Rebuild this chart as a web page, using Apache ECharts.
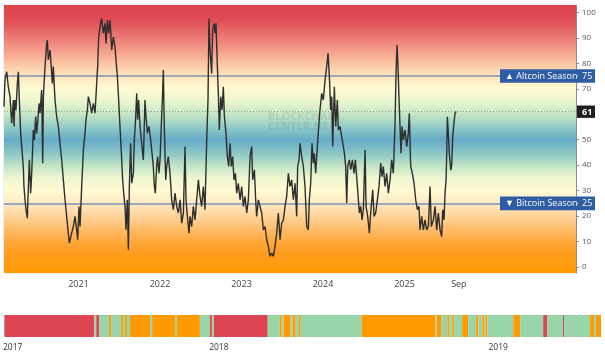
<!DOCTYPE html>
<html><head><meta charset="utf-8">
<script src="https://cdn.jsdelivr.net/npm/echarts@6/dist/echarts.min.js"></script>
<style>html,body{margin:0;padding:0;background:#fff;}#c{width:605px;height:356px;}</style>
</head><body><div id="c"></div>
<script>
// ---- Altcoin Season Index (time in decimal years, value 0-100) ----
const index2020 = [[2020.086,63.0],[2020.098,73.5],[2020.119,76.7],[2020.139,70.8],[2020.160,66.9],[2020.180,56.5],[2020.201,65.6],[2020.209,55.2],[2020.221,65.6],[2020.233,61.7],[2020.250,72.1],[2020.262,76.7],[2020.274,65.6],[2020.291,52.5],[2020.303,47.3],[2020.323,39.5],[2020.331,31.6],[2020.344,26.4],[2020.356,22.5],[2020.372,19.2],[2020.385,31.6],[2020.397,42.1],[2020.413,29.0],[2020.426,36.8],[2020.446,53.8],[2020.458,49.9],[2020.475,59.1],[2020.487,52.5],[2020.499,56.5],[2020.516,64.3],[2020.528,60.4],[2020.548,69.5],[2020.561,40.8],[2020.569,66.9],[2020.589,78.7],[2020.610,87.8],[2020.618,89.1],[2020.630,81.3],[2020.651,85.2],[2020.663,80.0],[2020.679,72.1],[2020.691,78.7],[2020.712,65.6],[2020.732,59.1],[2020.753,55.2],[2020.773,48.6],[2020.794,42.1],[2020.814,34.2],[2020.835,26.4],[2020.855,19.9],[2020.875,13.3],[2020.888,9.4],[2020.904,9.4],[2020.916,13.3],[2020.937,15.9],[2020.957,19.9],[2020.978,14.6],[2020.990,10.7]];
const index2021 = [[2021.006,23.8],[2021.019,15.9],[2021.039,31.6],[2021.060,46.0],[2021.080,52.5],[2021.092,57.8],[2021.109,61.7],[2021.121,66.9],[2021.141,64.3],[2021.162,60.4],[2021.182,64.3],[2021.203,60.4],[2021.223,72.1],[2021.235,78.7],[2021.248,90.4],[2021.264,94.4],[2021.284,97.6],[2021.305,91.8],[2021.325,95.7],[2021.338,87.8],[2021.354,97.0],[2021.370,91.8],[2021.387,97.0],[2021.407,85.2],[2021.428,90.4],[2021.448,86.5],[2021.460,81.3],[2021.477,74.8],[2021.493,65.6],[2021.509,55.2],[2021.530,42.1],[2021.542,34.2],[2021.558,27.7],[2021.571,23.8],[2021.583,14.6],[2021.599,26.4],[2021.612,6.8],[2021.624,31.6],[2021.640,48.6],[2021.653,32.9],[2021.673,36.8],[2021.685,49.9],[2021.698,56.5],[2021.714,68.2],[2021.726,57.8],[2021.738,65.6],[2021.755,55.2],[2021.775,48.6],[2021.796,42.1],[2021.816,65.6],[2021.828,59.1],[2021.845,52.5],[2021.865,55.2],[2021.886,49.9],[2021.902,44.7],[2021.918,39.5],[2021.931,31.6],[2021.943,29.0],[2021.959,39.5],[2021.971,43.4],[2021.988,36.8]];
const index2022 = [[2022.000,42.1],[2022.012,52.5],[2022.029,65.6],[2022.041,77.4],[2022.053,55.2],[2022.070,34.2],[2022.082,39.5],[2022.102,43.4],[2022.123,36.8],[2022.143,26.4],[2022.164,22.5],[2022.184,29.0],[2022.205,23.8],[2022.225,21.2],[2022.246,26.4],[2022.266,17.2],[2022.287,21.2],[2022.307,47.3],[2022.319,26.4],[2022.336,19.9],[2022.356,13.3],[2022.368,19.9],[2022.389,15.9],[2022.409,23.8],[2022.430,18.5],[2022.450,26.4],[2022.471,34.2],[2022.491,27.7],[2022.511,23.8],[2022.532,31.6],[2022.552,22.5],[2022.573,49.9],[2022.589,65.6],[2022.601,97.6],[2022.614,85.2],[2022.634,76.0],[2022.646,93.1],[2022.663,95.7],[2022.675,91.8],[2022.687,95.7],[2022.704,78.7],[2022.716,68.2],[2022.728,53.8],[2022.745,66.9],[2022.761,61.7],[2022.777,70.8],[2022.790,59.1],[2022.810,52.5],[2022.826,43.4],[2022.843,39.5],[2022.859,48.6],[2022.875,39.5],[2022.892,43.4],[2022.908,34.2],[2022.925,36.8],[2022.941,29.0],[2022.961,32.9],[2022.982,26.4]];
const index2023 = [[2023.002,31.6],[2023.023,23.8],[2023.043,27.7],[2023.064,21.2],[2023.084,26.4],[2023.105,43.4],[2023.125,47.3],[2023.137,34.2],[2023.158,38.2],[2023.174,26.4],[2023.186,19.9],[2023.207,26.4],[2023.227,23.8],[2023.248,21.2],[2023.268,14.6],[2023.289,15.9],[2023.309,10.7],[2023.329,8.1],[2023.350,4.2],[2023.370,5.5],[2023.391,4.2],[2023.411,8.1],[2023.432,13.3],[2023.452,21.2],[2023.473,10.7],[2023.493,17.2],[2023.514,18.5],[2023.534,23.8],[2023.554,27.7],[2023.575,36.8],[2023.595,31.6],[2023.616,34.2],[2023.636,26.4],[2023.657,32.9],[2023.677,19.9],[2023.689,39.5],[2023.706,42.1],[2023.718,48.6],[2023.738,43.4],[2023.759,39.5],[2023.779,31.6],[2023.800,15.9],[2023.820,14.6],[2023.832,26.4],[2023.849,32.9],[2023.865,48.6],[2023.882,40.8],[2023.894,44.7],[2023.910,36.8],[2023.931,47.3],[2023.947,55.2],[2023.963,61.7],[2023.984,68.2]];
const index2024 = [[2024.004,65.6],[2024.025,73.5],[2024.045,78.7],[2024.062,83.9],[2024.078,74.8],[2024.094,61.7],[2024.107,66.9],[2024.119,47.3],[2024.139,70.8],[2024.156,55.2],[2024.176,65.6],[2024.188,53.8],[2024.209,55.2],[2024.229,51.2],[2024.250,47.3],[2024.262,44.7],[2024.278,39.5],[2024.291,25.1],[2024.303,39.5],[2024.323,42.1],[2024.340,38.2],[2024.360,42.1],[2024.381,36.8],[2024.397,42.1],[2024.413,35.5],[2024.434,26.4],[2024.446,21.2],[2024.462,23.8],[2024.479,18.5],[2024.495,22.5],[2024.516,46.0],[2024.528,23.8],[2024.548,19.9],[2024.569,13.3],[2024.585,21.2],[2024.610,30.3],[2024.626,19.9],[2024.646,21.2],[2024.667,26.4],[2024.687,31.6],[2024.708,40.8],[2024.724,35.5],[2024.740,39.5],[2024.761,31.6],[2024.781,36.8],[2024.802,29.0],[2024.822,34.2],[2024.843,42.1],[2024.863,36.8],[2024.884,56.5],[2024.896,76.0],[2024.908,87.2],[2024.920,78.7],[2024.933,65.6],[2024.945,55.2],[2024.957,44.7],[2024.970,55.2],[2024.986,49.9]];
const index2025 = [[2025.006,53.8],[2025.027,47.3],[2025.047,52.5],[2025.059,60.4],[2025.076,39.5],[2025.096,36.8],[2025.117,32.9],[2025.137,26.4],[2025.158,22.5],[2025.178,23.8],[2025.190,14.6],[2025.211,19.9],[2025.231,14.6],[2025.252,18.5],[2025.272,14.6],[2025.293,15.9],[2025.313,31.6],[2025.329,15.9],[2025.354,18.5],[2025.374,23.8],[2025.395,14.6],[2025.415,21.2],[2025.436,14.6],[2025.456,12.0],[2025.469,22.5],[2025.485,18.5],[2025.497,29.0],[2025.510,34.2],[2025.518,45.0],[2025.526,59.0],[2025.538,52.0],[2025.551,44.0],[2025.567,38.0],[2025.579,40.0],[2025.591,51.0],[2025.608,57.0],[2025.620,60.4],[2025.632,61.0]];

const currentValue = 61;
const altcoinLevel = 75;
const bitcoinLevel = 25;

const xTickValues = [2021, 2022, 2023, 2024, 2025, 2025.667];
const xTickLabels = ['2021', '2022', '2023', '2024', '2025', 'Sep'];
const yTickValues = [0,10,20,30,40,50,60,70,80,90,100];
const yLabelValues = [0,10,20,30,40,50,70,80,90,100];

// ---- Season history strip (segment start, decimal year) ----
const stripStarts = [2017.232,2017.554,2017.561,2017.571,2017.607,2017.614,2017.650,2017.657,2017.664,2017.671,2017.682,2017.754,2017.761,2017.843,2017.850,2017.932,2017.968,2017.975,2017.982,2018.175,2018.218,2018.225,2018.232,2018.257,2018.264,2018.275,2018.286,2018.293,2018.511,2018.775,2018.779,2018.796,2018.818,2018.825,2018.836,2018.843,2018.871,2018.893,2018.921,2018.929,2018.943,2018.950,2018.954,2018.961,2019.054,2019.079,2019.161,2019.175,2019.232,2019.236,2019.329,2019.343,2019.350];
const stripSeasons = ['A','G','A','G','B','G','B','G','B','G','B','G','B','G','B','G','A','G','A','G','B','G','B','G','B','G','B','G','B','G','B','G','B','G','B','G','B','G','B','G','B','G','B','G','B','G','A','G','A','G','B','G','B'];
const stripEnd = 2019.368;
const stripTickValues = [2017.262, 2018, 2019];
const stripTickLabels = ['2017', '2018', '2019'];

// ---- build ----
const FONT = 'Open Sans';
const indexData = [].concat(index2020, index2021, index2022, index2023, index2024, index2025);
const xMin = 2020.086, xMax = 2027.104, yMin = -2.35, yMax = 102.9;
const seasonColor = {A: '#dc4551', G: '#98d5a9', B: '#ff9a00'};
const stripData = stripStarts.map((s, i) => [s, i + 1 < stripStarts.length ? stripStarts[i + 1] : stripEnd, stripSeasons[i]]);

const bgStopsByValue = [
  [102.9,'#dc434e'],[97,'#df4d54'],[90,'#ec7b74'],[85,'#f59d8b'],[80,'#fcc4a2'],[75,'#ffe7bf'],
  [70,'#fffad2'],[65,'#eaf6cf'],[60,'#c6e6c6'],[55,'#92cdc6'],[50,'#66abc8'],[45,'#88c5c6'],
  [40,'#bfe3c6'],[35,'#eef6d0'],[30,'#fffad2'],[25,'#ffe9c2'],[20,'#ffd49a'],[15,'#ffbd6c'],
  [10,'#ffa83c'],[5,'#ff9c1c'],[-2.35,'#ff9900']
];
const colorStops = bgStopsByValue.map(s => ({offset: (yMax - s[0]) / (yMax - yMin), color: s[1]}));

function fmtFrom(values, labels) {
  return v => { const i = values.findIndex(t => Math.abs(t - v) < 1e-6); return i >= 0 ? labels[i] : ''; };
}

const chart = echarts.init(document.getElementById('c'), null, {renderer: 'canvas'});
chart.setOption({
  animation: false,
  grid: [
    {left: 4, right: 29, top: 5, bottom: 83, show: true, borderColor: '#e2e2e2', borderWidth: 1, backgroundColor: 'transparent'},
    {left: 3, right: 4, top: 315, height: 22}
  ],
  xAxis: [
    {type: 'value', gridIndex: 0, min: xMin, max: xMax, splitLine: {show: false}, axisLine: {show: false}, axisTick: {show: false},
     axisLabel: {customValues: xTickValues, formatter: fmtFrom(xTickValues, xTickLabels), color: '#444', fontSize: 9, fontFamily: FONT, margin: 7}},
    {type: 'value', gridIndex: 1, min: stripStarts[0], max: stripEnd, splitLine: {show: false}, axisLine: {show: false}, axisTick: {show: false},
     axisLabel: {customValues: stripTickValues, formatter: fmtFrom(stripTickValues, stripTickLabels), color: '#333', fontSize: 8.5, fontFamily: FONT, margin: 6}}
  ],
  yAxis: [
    {type: 'value', gridIndex: 0, position: 'right', min: yMin, max: yMax, splitLine: {show: false},
     axisLine: {show: true, lineStyle: {color: '#8c8c8c', width: 1}},
     axisTick: {show: true, length: 3, customValues: yTickValues, lineStyle: {color: '#8c8c8c'}},
     axisLabel: {customValues: yLabelValues, color: '#555', fontSize: 8, fontFamily: FONT, margin: 6}},
    {type: 'value', gridIndex: 1, min: 0, max: 1, show: false}
  ],
  series: [
    {type: 'line', xAxisIndex: 0, yAxisIndex: 0, data: [], z: 1, silent: true,
     markArea: {silent: true, itemStyle: {color: {type: 'linear', x: 0, y: 0, x2: 0, y2: 1, colorStops: colorStops}, opacity: 1},
       data: [[{yAxis: yMin}, {yAxis: yMax}]]}},
    {type: 'line', xAxisIndex: 0, yAxisIndex: 0, data: indexData, z: 5, showSymbol: false, symbol: 'none', silent: true,
     lineStyle: {color: '#2e2e2e', width: 1.4},
     markLine: {silent: true, symbol: 'none', label: {show: false},
       data: [
         {yAxis: altcoinLevel, lineStyle: {color: '#7d93b4', width: 1.5, type: 'solid'}},
         {yAxis: bitcoinLevel, lineStyle: {color: '#7d93b4', width: 1.5, type: 'solid'}},
         {yAxis: currentValue, lineStyle: {color: '#8c9a8c', width: 1, type: [1, 2]}}
       ]}},
    {type: 'custom', xAxisIndex: 1, yAxisIndex: 1, data: stripData, encode: {x: [0, 1]}, silent: true,
     renderItem: function (params, api) {
       const p0 = api.coord([api.value(0), 1]);
       const p1 = api.coord([api.value(1), 0]);
       return {type: 'rect', shape: {x: p0[0], y: p0[1], width: Math.max(p1[0] - p0[0], 1), height: p1[1] - p0[1]},
               style: {fill: seasonColor[stripData[params.dataIndex][2]]}};
     }}
  ]
});

function overlays() {
  const yA = chart.convertToPixel({yAxisIndex: 0}, altcoinLevel);
  const yB = chart.convertToPixel({yAxisIndex: 0}, bitcoinLevel);
  const yC = chart.convertToPixel({yAxisIndex: 0}, currentValue);
  const xAxisPx = chart.convertToPixel({xAxisIndex: 0}, xMax);
  const g = [];
  function seasonBox(y, arrow, name, level) {
    g.push({type: 'rect', z: 100, shape: {x: 500, y: y - 6.8, width: 95, height: 13.6}, style: {fill: '#2e5ca5'}});
    g.push({type: 'text', z: 101, x: 505, y: y + 0.5, style: {text: arrow + ' ' + name, fill: '#fff', font: '9px "' + FONT + '"', verticalAlign: 'middle', align: 'left'}});
    g.push({type: 'text', z: 101, x: xAxisPx + 6, y: y + 0.5, style: {text: String(level), fill: '#fff', font: '9px "' + FONT + '"', verticalAlign: 'middle', align: 'left'}});
    g.push({type: 'line', z: 101, shape: {x1: xAxisPx + 0.5, y1: y, x2: xAxisPx + 2.5, y2: y}, style: {stroke: '#a9bbd6', lineWidth: 1}});
  }
  seasonBox(yA, '\u25B2', 'Altcoin Season', altcoinLevel);
  seasonBox(yB, '\u25BC', 'Bitcoin Season', bitcoinLevel);
  g.push({type: 'rect', z: 100, shape: {x: xAxisPx + 1, y: yC - 6.2, width: 18, height: 12.4}, style: {fill: '#1f1f1f'}});
  g.push({type: 'text', z: 101, x: xAxisPx + 6, y: yC + 0.5, style: {text: String(currentValue), fill: '#fff', font: 'bold 9px "' + FONT + '"', verticalAlign: 'middle', align: 'left'}});
  g.push({type: 'text', z: 3, x: 268, y: 112, style: {text: 'BLOCKCHAIN\nCENTER.NET', fill: 'rgba(70,100,110,0.14)', font: 'bold 11px "' + FONT + '"', lineHeight: 10}});
  chart.setOption({graphic: g});
}
overlays();
</script>
</body></html>
